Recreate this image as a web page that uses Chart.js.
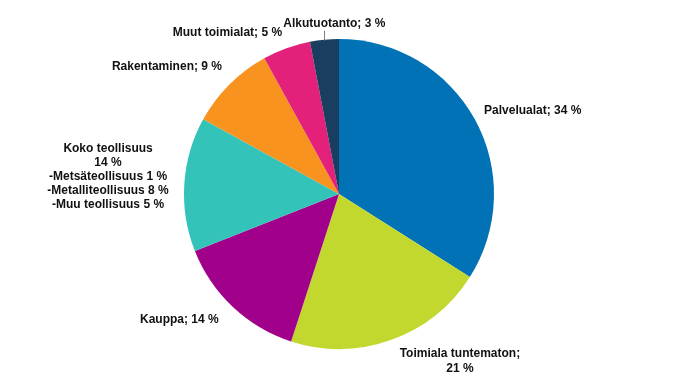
<!DOCTYPE html>
<html>
<head>
<meta charset="utf-8">
<script src="https://cdn.jsdelivr.net/npm/chart.js@4/dist/chart.umd.min.js"></script>
<style>
    html, body { margin: 0; padding: 0; background: #fff; }
    #wrap { width: 676px; height: 387px; }
</style>
</head>
<body>
<div id="wrap"><canvas id="pieChart"></canvas></div>
<script>
// toimialat ja osuudet (%)
let labels = ['Palvelualat', 'Toimiala tuntematon', 'Kauppa', 'Koko teollisuus', 'Rakentaminen', 'Muut toimialat', 'Alkutuotanto'];
let values = [34, 21, 14, 14, 9, 5, 3];
let labelTexts = [
    ['Palvelualat; 34 %'],
    ['Toimiala tuntematon;', '21 %'],
    ['Kauppa; 14 %'],
    ['Koko teollisuus', '14 %', '-Metsäteollisuus 1 %', '-Metalliteollisuus 8 %', '-Muu teollisuus 5 %'],
    ['Rakentaminen; 9 %'],
    ['Muut toimialat; 5 %'],
    ['Alkutuotanto; 3 %']
];
let colors = ['#0072b5', '#c2d82e', '#a0008a', '#33c3b9', '#f7931e', '#e3217a', '#1a3e5f'];

// label positions relative to pie centre, in radius units
const labelPos = [
    [1.25, -0.54],
    [0.78, 1.08],
    [-1.03, 0.81],
    [-1.49, -0.11],
    [-1.11, -0.82],
    [-0.72, -1.04],
    [-0.03, -1.10]
];

const labelPlugin = {
    id: 'pieLabels',
    afterDatasetsDraw(chart) {
        const ctx = chart.ctx;
        const meta = chart.getDatasetMeta(0);
        ctx.save();
        ctx.font = 'bold 12px "Liberation Sans", Arial, sans-serif';
        ctx.fillStyle = '#111';
        ctx.textAlign = 'center';
        ctx.textBaseline = 'middle';
        meta.data.forEach((arc, i) => {
            const r = arc.outerRadius;
            const lx = arc.x + labelPos[i][0] * r;
            const ly = arc.y + labelPos[i][1] * r;
            const lines = labelTexts[i];
            const lh = lines.length > 2 ? 14 : 15;
            const top = ly - (lines.length - 1) * lh / 2;
            lines.forEach((t, j) => ctx.fillText(t, lx, top + j * lh));
        });
        // leader line for the smallest slice
        const a = meta.data[6];
        const mid = (a.startAngle + a.endAngle) / 2;
        const ex = a.x + Math.cos(mid) * a.outerRadius;
        const ey = a.y + Math.sin(mid) * a.outerRadius;
        ctx.strokeStyle = '#808080';
        ctx.lineWidth = 1;
        ctx.beginPath();
        ctx.moveTo(Math.round(ex) + 0.5, ey + 1);
        ctx.lineTo(Math.round(ex) + 0.5, ey - 9);
        ctx.stroke();
        ctx.restore();
    }
};

const pieChart = document.querySelector('#pieChart');

new Chart(pieChart, {
    type: 'pie',
    data: {
        labels: labels,
        datasets: [
            {
                data: values,
                backgroundColor: colors,
                borderWidth: 0
            }
        ]
    },
    options: {
        responsive: true,
        maintainAspectRatio: false,
        animation: false,
        layout: {
            padding: { top: 39, bottom: 38, left: 2, right: 0 }
        },
        plugins: {
            legend: { display: false },
            tooltip: { enabled: false }
        }
    },
    plugins: [labelPlugin]
});
</script>
</body>
</html>
